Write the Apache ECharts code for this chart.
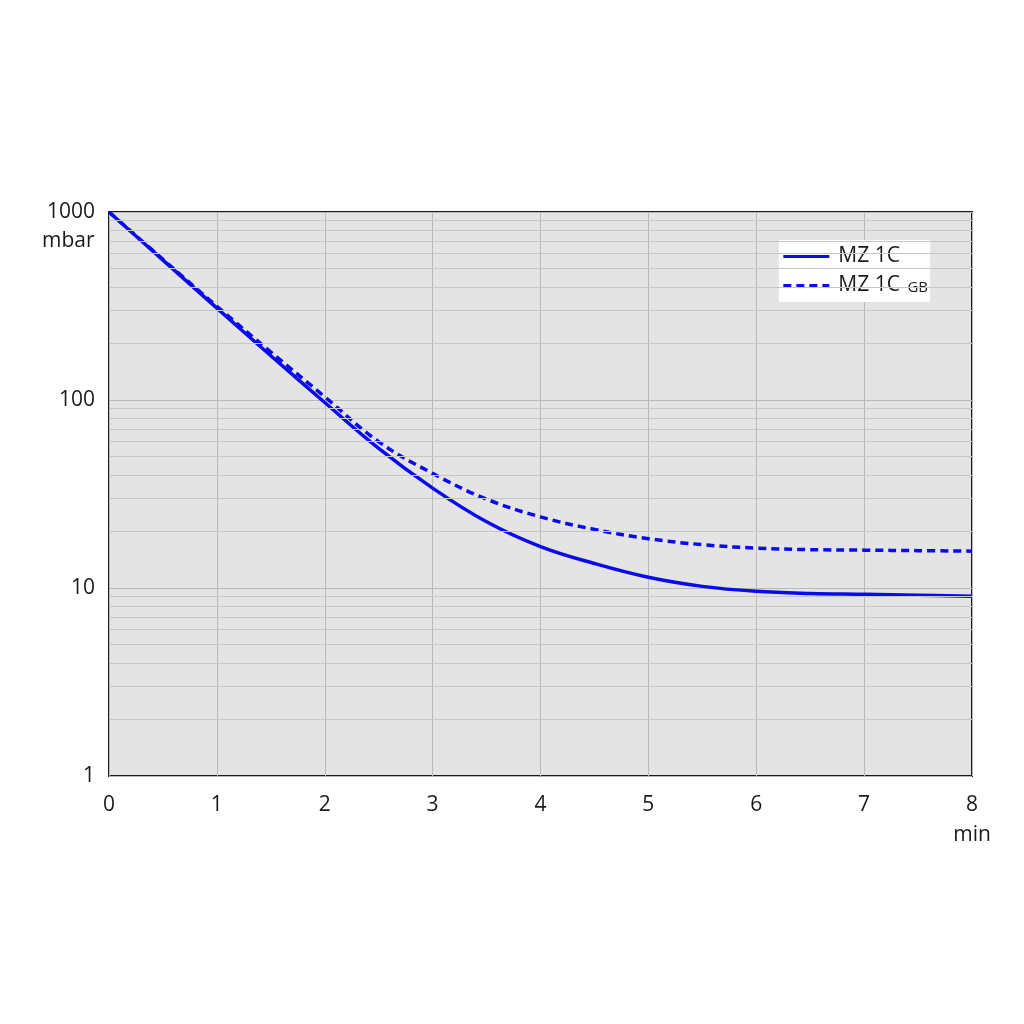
<!DOCTYPE html>
<html>
<head>
<meta charset="utf-8">
<script src="https://cdn.jsdelivr.net/npm/echarts@6/dist/echarts.min.js"></script>
<style>
html,body{margin:0;padding:0;background:#fff;}
#chart{width:1024px;height:1024px;}
</style>
</head>
<body>
<div id="chart"></div>
<script>
// Data
const timeMin = [0, 0.5, 1, 1.5, 2, 2.5, 3, 3.5, 4, 4.5, 5, 5.5, 6, 6.5, 7, 7.5, 8];
const mz1c   = [1000, 555, 308, 172, 97, 55.3, 34, 22.5, 16.6, 13.5, 11.4, 10.2, 9.6, 9.35, 9.25, 9.15, 9.05];
const mz1cGB = [1000, 560, 315, 180, 104, 60, 40.7, 29.7, 23.9, 20.5, 18.3, 17, 16.3, 16.0, 15.9, 15.8, 15.7];
const seriesNames = ['MZ 1C', 'MZ 1C GB'];
const yTickLabels = [1, 10, 100, 1000];
const xTickLabels = [0, 1, 2, 3, 4, 5, 6, 7, 8];
const minorGridValues = [2,3,4,5,6,7,8,9,20,30,40,50,60,70,80,90,200,300,400,500,600,700,800,900];
const yUnit = 'mbar';
const xUnit = 'min';

const FONT = '"Open Sans", "DejaVu Sans", sans-serif';
const BLUE = '#0a0aeb';

const chart = echarts.init(document.getElementById('chart'), null, {renderer: 'canvas'});
chart.setOption({
  backgroundColor: '#ffffff',
  animation: false,
  grid: {
    left: 109, right: 52, top: 212, bottom: 248,
    show: true, backgroundColor: '#e4e4e4', borderColor: '#1a1a1a', borderWidth: 2,
    containLabel: false
  },
  legend: {
    right: 94, top: 240,
    orient: 'vertical',
    backgroundColor: '#ffffff',
    padding: [6, 2, 6, 3],
    itemGap: 8,
    itemWidth: 46, itemHeight: 14,
    itemStyle: { opacity: 0, borderWidth: 0 },
    lineStyle: { width: 3, inactiveWidth: 3 },
    textStyle: {
      fontFamily: FONT, fontSize: 21, color: '#1a1a1a', padding: [0, 0, 0, 4],
      rich: { s: { fontFamily: FONT, fontSize: 15, color: '#1a1a1a', padding: [5, 0, 0, 2] } }
    },
    formatter: function (name) {
      return name === seriesNames[1] ? 'MZ 1C {s|GB}' : name;
    },
    data: seriesNames
  },
  xAxis: {
    type: 'value', min: 0, max: 8, interval: 1,
    axisLine: { show: false },
    axisTick: { show: false },
    axisLabel: {
      margin: 14, fontFamily: FONT, fontSize: 21, color: '#1a1a1a', lineHeight: 30,
      formatter: function (v) {
        return v === xTickLabels[xTickLabels.length - 1] ? v + '\n' + xUnit : String(v);
      }
    },
    splitLine: { show: true, lineStyle: { color: '#b9b9b9', width: 1 } }
  },
  yAxis: {
    type: 'log', logBase: 10, min: 1, max: 1000,
    axisLine: { show: false },
    axisTick: { show: false },
    axisLabel: {
      margin: 14, fontFamily: FONT, fontSize: 21, color: '#1a1a1a',
      formatter: function (v) { return yTickLabels.indexOf(Math.round(v)) >= 0 ? String(Math.round(v)) : ''; }
    },
    splitLine: { show: true, lineStyle: { color: '#b9b9b9', width: 1 } }
  },
  graphic: [{
    type: 'text', left: 42, top: 231, silent: true,
    style: { text: yUnit, font: '21px ' + FONT, fill: '#1a1a1a' }
  }],
  series: [
    {
      name: 'minor-grid', type: 'line', data: [], silent: true, z: 1,
      markLine: {
        silent: true, symbol: 'none', label: { show: false },
        lineStyle: { color: '#c6c6c6', width: 1, type: 'solid' },
        data: minorGridValues.map(v => ({ yAxis: v }))
      }
    },
    {
      name: seriesNames[0], type: 'line', z: 3,
      data: timeMin.map((t, i) => [t, mz1c[i]]),
      smooth: 0.4, showSymbol: false, symbol: 'none',
      lineStyle: { color: BLUE, width: 3.5, type: 'solid' },
      itemStyle: { color: BLUE }
    },
    {
      name: seriesNames[1], type: 'line', z: 3,
      data: timeMin.map((t, i) => [t, mz1cGB[i]]),
      smooth: 0.4, showSymbol: false, symbol: 'none',
      lineStyle: { color: BLUE, width: 3.5, type: [8, 5] },
      itemStyle: { color: BLUE }
    }
  ]
});
</script>
</body>
</html>
